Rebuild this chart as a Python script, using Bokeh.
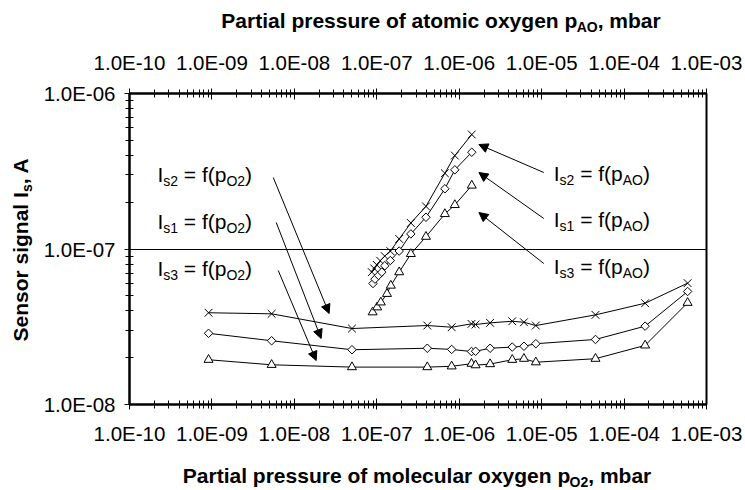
import math
from bokeh.plotting import figure
from bokeh.layouts import row, column
from bokeh.models import (Range1d, LogAxis, FixedTicker, CustomJSTickFormatter,
                          Label, Arrow, NormalHead)
from bokeh.embed import file_html
from bokeh.resources import INLINE

# --- molecular oxygen series (bottom axis, p_O2 in mbar) ---
p_o2 = [9.1e-10, 5.3e-9, 5.0e-8, 4.1e-7, 8.1e-7, 1.41e-6, 1.58e-6, 2.37e-6,
        4.4e-6, 6.1e-6, 8.5e-6, 4.5e-5, 1.8e-4, 5.9e-4]
is2_o2 = [3.89e-8, 3.83e-8, 3.08e-8, 3.22e-8, 3.14e-8, 3.30e-8, 3.27e-8, 3.35e-8,
          3.43e-8, 3.38e-8, 3.22e-8, 3.77e-8, 4.48e-8, 6.03e-8]
is1_o2 = [2.87e-8, 2.57e-8, 2.25e-8, 2.30e-8, 2.26e-8, 2.19e-8, 2.20e-8, 2.30e-8,
          2.34e-8, 2.37e-8, 2.46e-8, 2.62e-8, 3.19e-8, 5.33e-8]
is3_o2 = [1.94e-8, 1.80e-8, 1.74e-8, 1.74e-8, 1.76e-8, 1.83e-8, 1.79e-8, 1.82e-8,
          1.94e-8, 1.97e-8, 1.87e-8, 1.97e-8, 2.40e-8, 4.51e-8]

# --- atomic oxygen series (top axis, p_AO in mbar) ---
p_ao_s2 = [8.7e-8, 9.3e-8, 1.0e-7, 1.1e-7, 1.25e-7, 1.46e-7, 1.87e-7, 2.59e-7,
           3.95e-7, 6.7e-7, 8.85e-7, 1.42e-6]
is2_ao = [7.1e-8, 7.5e-8, 7.9e-8, 8.4e-8, 9.0e-8, 9.7e-8, 1.16e-7, 1.47e-7,
          1.88e-7, 3.07e-7, 3.99e-7, 5.45e-7]
p_ao_s1 = [9.0e-8, 9.5e-8, 1.05e-7, 1.15e-7, 1.25e-7, 1.46e-7, 1.87e-7, 2.59e-7,
           3.95e-7, 6.7e-7, 8.85e-7, 1.42e-6]
is1_ao = [6.0e-8, 6.4e-8, 6.76e-8, 7.1e-8, 7.8e-8, 8.43e-8, 9.7e-8, 1.25e-7,
          1.60e-7, 2.44e-7, 3.23e-7, 4.19e-7]
p_ao_s3 = [8.9e-8, 1.01e-7, 1.12e-7, 1.33e-7, 1.48e-7, 1.87e-7, 2.59e-7, 3.95e-7,
           6.7e-7, 8.85e-7, 1.42e-6]
is3_ao = [3.92e-8, 4.22e-8, 4.54e-8, 5.15e-8, 5.82e-8, 7.1e-8, 9.3e-8, 1.20e-7,
          1.68e-7, 1.92e-7, 2.56e-7]

x_decades = [-10, -9, -8, -7, -6, -5, -4, -3]
y_decades = [-8, -7, -6]

# --- page geometry (page pixels) ---
W, H = 745, 490
STRIP_L, STRIP_T, STRIP_B = 40, 40, 40
FRAME_L, FRAME_R, FRAME_T, FRAME_B = 128, 706, 93, 404
MW, MH = W - STRIP_L, H - STRIP_T - STRIP_B
FW, FH = FRAME_R - FRAME_L, FRAME_B - FRAME_T
XLO, XHI = x_decades[0], x_decades[-1]
YLO, YHI = y_decades[0], y_decades[-1]
BORDER_L, BORDER_R = FRAME_L - STRIP_L, W - FRAME_R


def X(px):
    return 10 ** (XLO + (px - FRAME_L) * (XHI - XLO) / FW)


def Y(py):
    return 10 ** (YHI - (py - FRAME_T) * (YHI - YLO) / FH)


p = figure(width=MW, height=MH, x_axis_type="log", y_axis_type="log",
           x_range=Range1d(10.0 ** XLO, 10.0 ** XHI),
           y_range=Range1d(10.0 ** YLO, 10.0 ** YHI),
           min_border_left=BORDER_L, min_border_right=BORDER_R,
           min_border_top=FRAME_T - STRIP_T, min_border_bottom=H - STRIP_B - FRAME_B,
           output_backend="svg", toolbar_location=None)
p.background_fill_color = "white"
p.border_fill_color = "white"
p.outline_line_color = "black"
p.outline_line_width = 2
p.xgrid.visible = False

x_major = [10.0 ** d for d in x_decades]
x_minor = [k * 10.0 ** d for d in x_decades[:-1] for k in range(2, 10)]
y_major = [10.0 ** d for d in y_decades]
y_minor = [k * 10.0 ** d for d in y_decades[:-1] for k in range(2, 10)]

fmt_code = """
const s = tick.toExponential(1).toUpperCase();
const i = s.indexOf('E');
let e = s.slice(i + 1);
const sign = e[0] === '-' ? '-' : '+';
e = e.replace(/^[+-]/, '');
if (e.length < 2) e = '0' + e;
return s.slice(0, i) + 'E' + sign + e;
"""

FONT = "Liberation Sans"
TICK_SIZE = "20.5px"


def style_axis(ax, ticker, standoff):
    ax.ticker = ticker
    ax.formatter = CustomJSTickFormatter(code=fmt_code)
    ax.axis_line_width = 2
    ax.axis_line_color = "black"
    ax.major_tick_in = 6
    ax.major_tick_out = 5
    ax.minor_tick_in = 4
    ax.minor_tick_out = 4
    ax.major_tick_line_color = "black"
    ax.minor_tick_line_color = "black"
    ax.major_label_text_font = FONT
    ax.major_label_text_font_size = TICK_SIZE
    ax.major_label_text_color = "black"
    ax.major_label_standoff = standoff


style_axis(p.xaxis[0], FixedTicker(ticks=x_major, minor_ticks=x_minor), 12)
style_axis(p.yaxis[0], FixedTicker(ticks=y_major, minor_ticks=y_minor), 9)

top = LogAxis()
style_axis(top, FixedTicker(ticks=x_major, minor_ticks=x_minor), 15)
p.add_layout(top, "above")

p.ygrid.ticker = FixedTicker(ticks=y_major)
p.ygrid.grid_line_color = "black"
p.ygrid.grid_line_width = 1
p.ygrid.grid_line_alpha = 1.0

# --- series ---
series = [
    (p_o2, is2_o2, "x"), (p_o2, is1_o2, "d"), (p_o2, is3_o2, "t"),
    (p_ao_s2, is2_ao, "x"), (p_ao_s1, is1_ao, "d"), (p_ao_s3, is3_ao, "t"),
]
for xs, ys, _ in series:
    p.line(xs, ys, line_color="black", line_width=1)
for xs, ys, kind in series:
    if kind == "x":
        p.scatter(xs, ys, marker="x", size=11, line_color="black", line_width=1)
    elif kind == "d":
        p.scatter(xs, ys, marker="square", angle=math.pi / 4, size=6,
                  fill_color="white", line_color="black", line_width=1)
    else:
        p.scatter(xs, ys, marker="triangle", size=9,
                  fill_color="white", line_color="black", line_width=1)


def strip(w, h, x0, x1, y0, y1, bl=0, br=0, bt=0, bb=0):
    f = figure(width=w, height=h, x_range=Range1d(x0, x1), y_range=Range1d(y0, y1),
               min_border=0, min_border_left=bl, min_border_right=br,
               min_border_top=bt, min_border_bottom=bb,
               x_axis_location=None, y_axis_location=None,
               output_backend="svg", toolbar_location=None)
    f.grid.visible = False
    f.outline_line_color = None
    f.background_fill_color = "white"
    f.border_fill_color = "white"
    return f


# title strips share the main frame's left/right borders, so their data
# coordinates are page pixels across the frame
top_strip = strip(MW, STRIP_T, FRAME_L, FRAME_R, 0, STRIP_T, bl=BORDER_L, br=BORDER_R)
bottom_strip = strip(MW, STRIP_B, FRAME_L, FRAME_R, 0, STRIP_B, bl=BORDER_L, br=BORDER_R)
left_strip = strip(STRIP_L, H, 0, STRIP_L, H - FRAME_B, H - FRAME_T,
                   bt=FRAME_T, bb=H - FRAME_B)

to_main = (p, lambda px, py: (X(px), Y(py)))
to_left = (left_strip, lambda px, py: (px, H - py))
to_top = (top_strip, lambda px, py: (px, STRIP_T - py))
to_bottom = (bottom_strip, lambda px, py: (px, H - py))

# --- text with subscripts ---
REG = {' ': 278, '(': 333, ')': 333, '=': 584, '.': 278, ',': 278, '-': 333,
       'A': 667, 'E': 667, 'I': 278, 'O': 778, 'P': 667, 'S': 667,
       'a': 556, 'b': 556, 'c': 500, 'e': 556, 'f': 278, 'g': 556, 'i': 222,
       'l': 222, 'm': 833, 'n': 556, 'o': 556, 'p': 556, 'r': 333, 's': 500,
       't': 278, 'u': 556, 'x': 500, 'y': 500}
BOLD = {' ': 278, '(': 333, ')': 333, ',': 278, 'A': 722, 'I': 278, 'O': 778,
        'P': 667, 'S': 667, 'a': 556, 'b': 611, 'c': 556, 'e': 556, 'f': 333,
        'g': 611, 'i': 278, 'l': 278, 'm': 889, 'n': 611, 'o': 611, 'p': 611,
        'r': 389, 's': 556, 't': 333, 'u': 611, 'x': 556, 'y': 556}
# Label places its "alphabetic" anchor this far (in em) below the true baseline
BASELINE_SHIFT = 0.345


def text_width(s, size, bold):
    table = BOLD if bold else REG
    return sum(table.get(c, 556) for c in s) / 1000.0 * size


def rich_text(target, x_px, y_px, parts, size, bold=False, align="left", vertical=False):
    fig, conv = target
    sub = round(size * 0.66)
    drop = size * 0.2
    widths = [text_width(t, sub if is_sub else size, bold) for t, is_sub in parts]
    total = sum(widths)
    pos = -total / 2 if align == "center" else 0.0
    for (t, is_sub), w in zip(parts, widths):
        fs = sub if is_sub else size
        body = t.lstrip(" ")
        lead = text_width(t[:len(t) - len(body)], fs, bold)
        at = pos + lead
        down = (drop if is_sub else 0.0) - BASELINE_SHIFT * fs
        if vertical:
            lx, ly = x_px + down, y_px - at
        else:
            lx, ly = x_px + at, y_px + down
        dx, dy = conv(lx, ly)
        fig.add_layout(Label(x=dx, y=dy, text=body,
                             angle=math.pi / 2 if vertical else 0.0,
                             text_font=FONT, text_font_size=f"{fs}px",
                             text_font_style="bold" if bold else "normal",
                             text_color="black", text_align="left",
                             text_baseline="alphabetic"))
        pos += w


ANN = 21
rich_text(to_main, 156, 181, [("I", 0), ("s2", 1), (" = f(p", 0), ("O2", 1), (")", 0)], ANN)
rich_text(to_main, 156, 228, [("I", 0), ("s1", 1), (" = f(p", 0), ("O2", 1), (")", 0)], ANN)
rich_text(to_main, 156, 275, [("I", 0), ("s3", 1), (" = f(p", 0), ("O2", 1), (")", 0)], ANN)
rich_text(to_main, 553, 180, [("I", 0), ("s2", 1), (" = f(p", 0), ("AO", 1), (")", 0)], ANN)
rich_text(to_main, 553, 226, [("I", 0), ("s1", 1), (" = f(p", 0), ("AO", 1), (")", 0)], ANN)
rich_text(to_main, 553, 273, [("I", 0), ("s3", 1), (" = f(p", 0), ("AO", 1), (")", 0)], ANN)

TITLE = 21
rich_text(to_bottom, 416, 482, [("Partial pressure of molecular oxygen p", 0), ("O2", 1),
                                (", mbar", 0)], TITLE, bold=True, align="center")
rich_text(to_top, 440, 27, [("Partial pressure of atomic oxygen p", 0), ("AO", 1),
                            (", mbar", 0)], TITLE, bold=True, align="center")
rich_text(to_left, 27, 249, [("Sensor signal I", 0), ("s", 1), (", A", 0)], TITLE,
          bold=True, align="center", vertical=True)

# --- arrows from the labels to their curves ---
arrows = [((272, 177), (328, 313)), ((275, 222), (320, 338)), ((277, 270), (315, 360)),
          ((543, 172), (478, 144)), ((543, 218), (478, 172)), ((543, 263), (478, 212))]
for (x0, y0), (x1, y1) in arrows:
    p.add_layout(Arrow(x_start=X(x0), y_start=Y(y0), x_end=X(x1), y_end=Y(y1),
                       line_color="black", line_width=1,
                       end=NormalHead(size=9, fill_color="black", line_color="black",
                                      line_width=1)))

layout = row(left_strip, column(top_strip, p, bottom_strip))
open("out.html", "w").write(file_html(layout, INLINE))
